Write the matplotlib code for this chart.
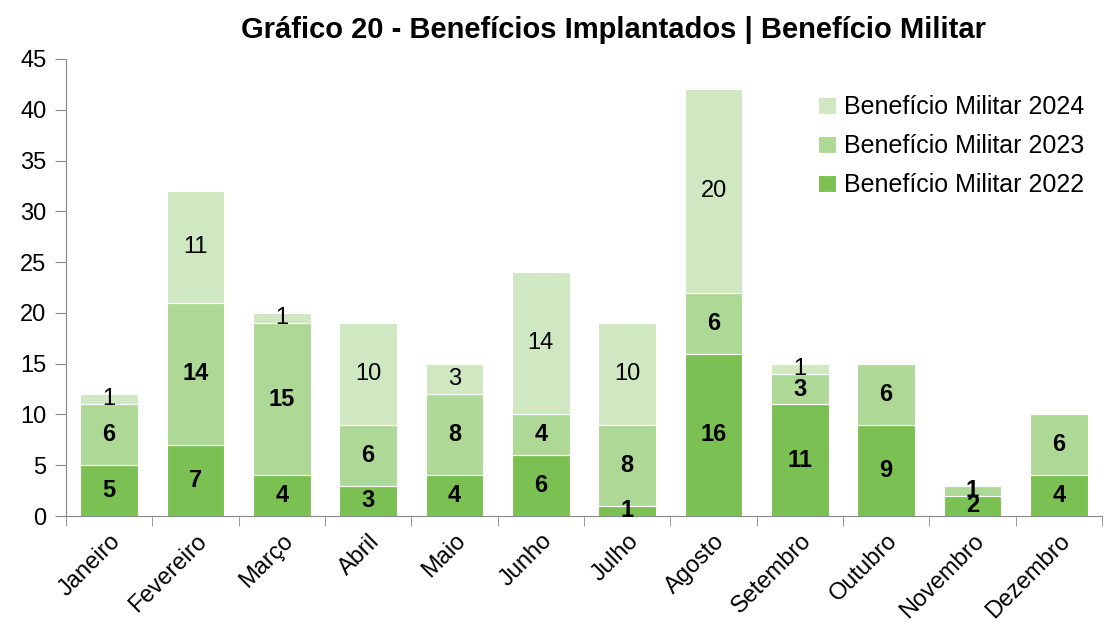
import numpy as np
import matplotlib.pyplot as plt

plt.rcParams['font.family'] = ['Liberation Sans', 'DejaVu Sans']

meses = ['Janeiro', 'Fevereiro', 'Março', 'Abril', 'Maio', 'Junho', 'Julho',
         'Agosto', 'Setembro', 'Outubro', 'Novembro', 'Dezembro']
mil_2022 = [5, 7, 4, 3, 4, 6, 1, 16, 11, 9, 2, 4]
mil_2023 = [6, 14, 15, 6, 8, 4, 8, 6, 3, 6, 1, 6]
mil_2024 = [1, 11, 1, 10, 3, 14, 10, 20, 1, 0, 0, 0]

cores = {'2022': '#7BC052', '2023': '#AED896', '2024': '#CFE8C2'}

fig = plt.figure(figsize=(11.07, 6.33), dpi=100)
ax = fig.add_axes([0.0596, 0.1848, 0.9359, 0.722])

x = np.arange(len(meses))
w = 0.67
ax.bar(x, mil_2022, w, color=cores['2022'], edgecolor='white', linewidth=0.8,
       label='Benefício Militar 2022')
ax.bar(x, mil_2023, w, bottom=mil_2022, color=cores['2023'], edgecolor='white',
       linewidth=0.8, label='Benefício Militar 2023')
base3 = np.array(mil_2022) + np.array(mil_2023)
ax.bar(x, mil_2024, w, bottom=base3, color=cores['2024'], edgecolor='white',
       linewidth=0.8, label='Benefício Militar 2024')

# rótulos de dados (2022 e 2023 em negrito)
for vals, bottoms, peso in [(mil_2022, np.zeros(12), 'bold'),
                            (mil_2023, np.array(mil_2022), 'bold'),
                            (mil_2024, base3, 'normal')]:
    for xi, v, b in zip(x, vals, bottoms):
        if v > 0:
            ax.text(xi, b + v / 2, str(v), ha='center', va='center',
                    fontsize=17, fontweight=peso, color='black')

ax.set_xlim(-0.5, len(meses) - 0.5)
ax.set_ylim(0, 45)
ax.set_yticks(range(0, 46, 5))
ax.tick_params(axis='y', labelsize=17, direction='out', length=8, color='#888888', pad=6)

ax.set_xticks(x)
ax.set_xticklabels(meses, rotation=45, ha='right', rotation_mode='anchor', fontsize=17)
ax.tick_params(axis='x', length=0, pad=10)
ax.set_xticks(np.arange(-0.5, len(meses), 1), minor=True)
ax.tick_params(axis='x', which='minor', length=7, color='#888888', direction='out')

for s in ['top', 'right']:
    ax.spines[s].set_visible(False)
for s in ['left', 'bottom']:
    ax.spines[s].set_color('#888888')

h, l = ax.get_legend_handles_labels()
ax.legend(h[::-1], l[::-1], loc='upper right', bbox_to_anchor=(1.005, 0.97), frameon=False,
          fontsize=18, handlelength=0.7, handleheight=0.7, handletextpad=0.35,
          labelspacing=0.6)

fig.text(0.554, 0.952, 'Gráfico 20 - Benefícios Implantados | Benefício Militar',
         ha='center', va='center', fontsize=21, fontweight='bold')

fig.savefig('out.png', dpi=100)
